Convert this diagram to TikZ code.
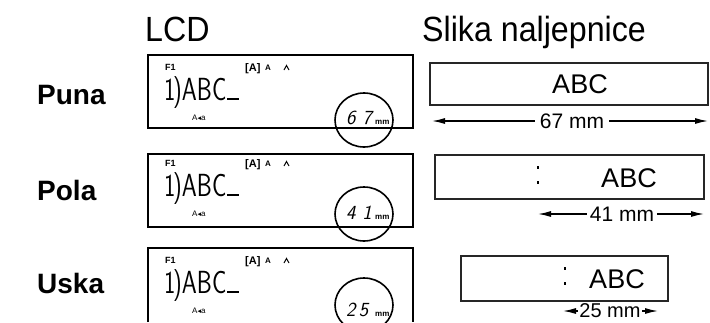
\documentclass[tikz,border=0pt]{standalone}
\usepackage{fontspec}
\setmainfont{Liberation Sans}
\newfontfamily\dejavu{DejaVu Sans}
\usetikzlibrary{arrows.meta}
\begin{document}
\begin{tikzpicture}[x=1pt,y=-1pt,
  txt/.style={inner sep=0pt,anchor=base west},
  title/.style={txt,font=\fontsize{35}{36}\selectfont,xscale=0.92},
  rowlbl/.style={txt,font=\fontsize{28}{30}\selectfont\bfseries},
  lcdbox/.style={draw=black,line width=2.6pt},
  tapebox/.style={draw=black!85,line width=1.9pt},
  lcdbig/.style={txt,font=\sffamily\fontsize{32}{32}\selectfont,xscale=0.75},
  lcdsmall/.style={txt,font=\fontsize{9}{9}\selectfont\bfseries},
  zoomring/.style={draw=black,line width=1.6pt},
  digit/.style={txt,font=\sffamily\slshape\fontsize{20}{20}\selectfont},
  mmtxt/.style={txt,font=\fontsize{8}{8}\selectfont\bfseries},
  abc/.style={inner sep=0pt,anchor=base,font=\fontsize{27}{28}\selectfont},
  dim/.style={inner sep=5pt,fill=white,anchor=center,font=\fontsize{21}{22}\selectfont},
  dimarrow/.style={line width=1.3pt,{Latex[length=13pt,width=6pt]}-{Latex[length=13pt,width=6pt]}},
  cutmark/.style={line width=1.2pt,dash pattern=on 3pt off 12pt}
]
\useasboundingbox (0,0) rectangle (710,322);

% titles
\node[title] (tlcd) at (145,41) {LCD};
\node[title] (tlabel) at (422,41) {Slika naljepnice};

% row labels
\node[rowlbl] (puna) at (37,104) {Puna};
\node[rowlbl] (pola) at (37,200) {Pola};
\node[rowlbl] (uska) at (37,293) {Uska};

% LCD boxes
\draw[lcdbox] (148,55) rectangle (413,128);
\draw[lcdbox] (148,154) rectangle (413,227);
\draw[lcdbox] (148,322) -- (148,248) -- (413,248) -- (413,322);

% LCD contents
\foreach \dy/\n in {0/a,96/b,193/c}{
  \node[lcdsmall] (f1\n) at (165,70+\dy) {F1};
  \node[txt,font=\fontsize{11}{11}\selectfont\bfseries] (br\n) at (245,71+\dy) {[A]};
  \node[txt,font=\fontsize{8}{8}\selectfont\bfseries] (sa\n) at (265,70+\dy) {A};
  \draw[line width=1pt] (284,70+\dy) -- (286.5,65.5+\dy) -- (289,70+\dy);
  \node[lcdbig] (abc\n) at (164,100+\dy) {1\kern-3pt)ABC};
  \draw[line width=1.4pt] (227,99+\dy) -- (239,99+\dy);
  \node[txt,font=\fontsize{8}{8}\selectfont] (aa\n) at (192,120+\dy) {A{\dejavu\fontsize{7}{7}\selectfont ◂}a};
}

% zoom rings
\draw[zoomring] (364,120) ellipse [x radius=29, y radius=27];
\draw[zoomring] (364,214) ellipse [x radius=29, y radius=27];
\draw[zoomring] (364,305) ellipse [x radius=29, y radius=27];
\node[digit] (d1) at (346,124) {6\,\,7};
\node[mmtxt] (m1) at (375,124) {mm};
\node[digit] (d2) at (346,219) {4\,\,1};
\node[mmtxt] (m2) at (375,219) {mm};
\node[digit] (d3) at (346,316) {2\,5};
\node[mmtxt] (m3) at (375,316) {mm};

% tape images
\draw[tapebox] (430,63) rectangle (708,105);
\node[abc] (abc1) at (580,93) {ABC};
\draw[tapebox] (435,155) rectangle (704,199);
\node[abc] (abc2) at (629,187) {ABC};
\draw[cutmark] (538,166) -- (538,186);
\draw[tapebox] (461,256) rectangle (668,301);
\node[abc] (abc3) at (617,288) {ABC};
\draw[cutmark] (565,267) -- (565,289);

% dimension arrows
\coordinate (l1) at (432,121); \coordinate (r1) at (708,121);
\draw[dimarrow] (l1) -- (r1);
\node[dim] (t1) at (572,121) {67 mm};
\coordinate (l2) at (538,214); \coordinate (r2) at (704,214);
\draw[dimarrow] (l2) -- (r2);
\node[dim,inner sep=3pt] (t2) at (622,214) {41 mm};
\coordinate (l3) at (563,311); \coordinate (r3) at (658,311);
\draw[dimarrow] (l3) -- (r3);
\node[dim,inner sep=1pt,font=\fontsize{20}{21}\selectfont] (t3) at (610,311) {25 mm};
\end{tikzpicture}
\end{document}
